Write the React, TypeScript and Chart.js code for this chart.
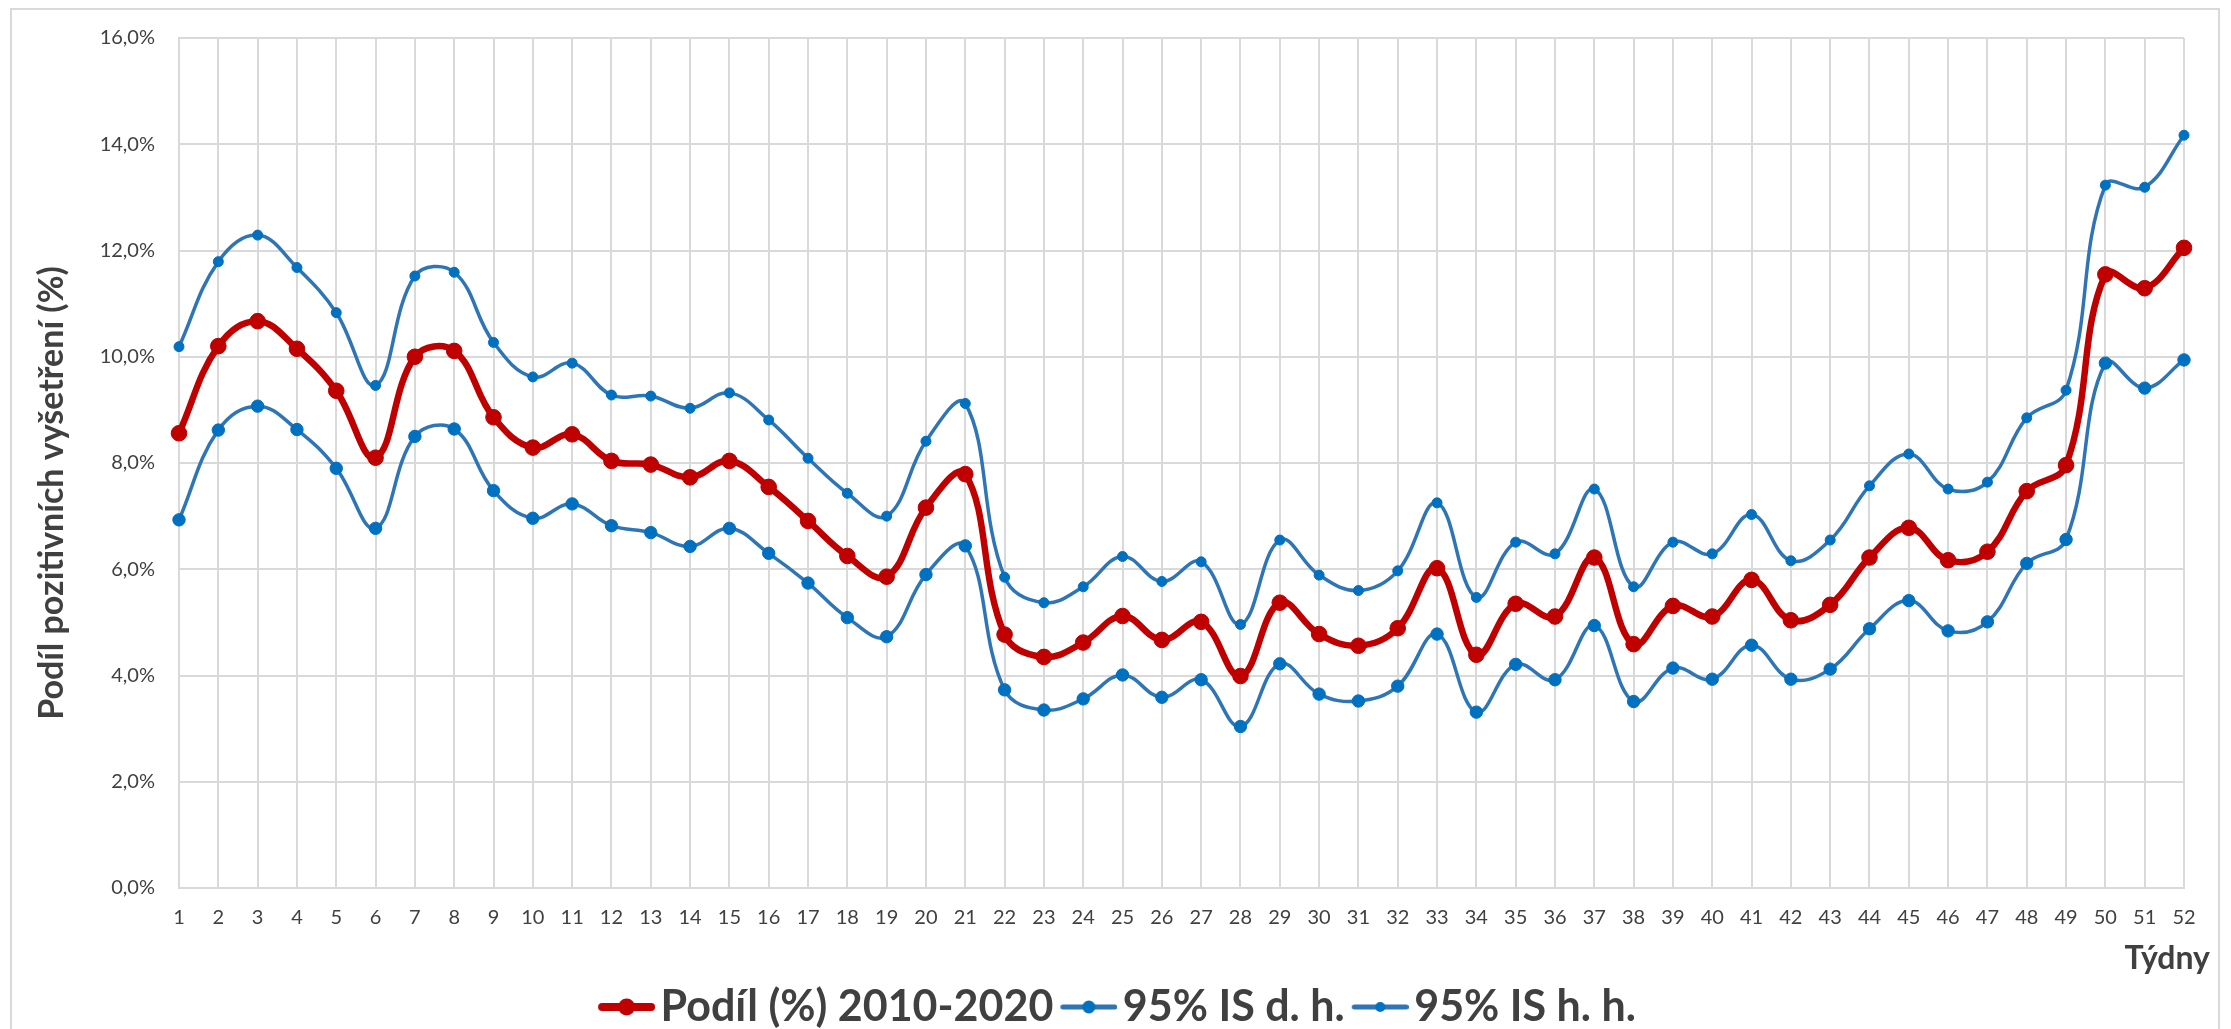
import React, { useEffect, useRef } from "react";
import { Chart, registerables } from "chart.js";

Chart.register(...registerables);

const weeks = ["1","2","3","4","5","6","7","8","9","10","11","12","13","14","15","16","17","18","19","20","21","22","23","24","25","26","27","28","29","30","31","32","33","34","35","36","37","38","39","40","41","42","43","44","45","46","47","48","49","50","51","52"];

const podil = [8.56, 10.20, 10.67, 10.15, 9.36, 8.10, 10.00, 10.11, 8.86, 8.29, 8.54, 8.04, 7.97, 7.73, 8.04, 7.55, 6.91, 6.25, 5.86, 7.16, 7.79, 4.77, 4.35, 4.62, 5.12, 4.67, 5.01, 3.99, 5.37, 4.78, 4.56, 4.89, 6.02, 4.39, 5.35, 5.11, 6.22, 4.59, 5.31, 5.11, 5.80, 5.04, 5.33, 6.22, 6.78, 6.17, 6.33, 7.47, 7.96, 11.55, 11.29, 12.05];

const isDolni = [6.93, 8.62, 9.07, 8.63, 7.90, 6.77, 8.50, 8.64, 7.48, 6.96, 7.23, 6.82, 6.69, 6.43, 6.77, 6.30, 5.74, 5.09, 4.73, 5.90, 6.44, 3.73, 3.35, 3.56, 4.01, 3.59, 3.92, 3.04, 4.22, 3.65, 3.52, 3.80, 4.78, 3.31, 4.21, 3.92, 4.94, 3.51, 4.14, 3.93, 4.57, 3.93, 4.12, 4.88, 5.41, 4.84, 5.01, 6.11, 6.56, 9.88, 9.41, 9.94];

const isHorni = [10.19, 11.79, 12.29, 11.68, 10.83, 9.46, 11.52, 11.59, 10.27, 9.62, 9.88, 9.28, 9.26, 9.03, 9.32, 8.81, 8.09, 7.43, 7.00, 8.41, 9.12, 5.85, 5.37, 5.67, 6.24, 5.77, 6.14, 4.96, 6.55, 5.89, 5.60, 5.97, 7.25, 5.47, 6.51, 6.29, 7.51, 5.67, 6.51, 6.29, 7.03, 6.16, 6.55, 7.57, 8.17, 7.51, 7.64, 8.85, 9.37, 13.23, 13.19, 14.17];

const seriesLabels = ["Podíl (%) 2010-2020", "95% IS d. h.", "95% IS h. h."];
const yTitle = "Podíl pozitivních vyšetření (%)";
const xTitle = "Týdny";

const FONT = "Lato, 'Open Sans', sans-serif";
const TEXT = "#404040";
const GRID = "#d9d9d9";
const RED = "#C00000";
const BLUE_LINE = "#2E75B6";
const BLUE_DOT = "#0070C0";

function legendIcon(lineColor: string, lineW: number, dotColor: string, r: number) {
  const c = document.createElement("canvas");
  c.width = 73;
  c.height = 24;
  const g = c.getContext("2d")!;
  g.strokeStyle = lineColor;
  g.lineWidth = lineW;
  g.lineCap = "round";
  g.beginPath();
  g.moveTo(16 + lineW / 2, 12);
  g.lineTo(73 - lineW / 2, 12);
  g.stroke();
  g.fillStyle = dotColor;
  g.beginPath();
  g.arc(44.5, 12, r, 0, Math.PI * 2);
  g.fill();
  return c;
}

const decor = {
  id: "decor",
  beforeDraw(chart: any) {
    const ctx = chart.ctx;
    ctx.save();
    ctx.fillStyle = "#ffffff";
    ctx.fillRect(0, 0, chart.width, chart.height);
    ctx.strokeStyle = GRID;
    ctx.lineWidth = 2;
    ctx.strokeRect(11, 9, 2208, 1100);
    ctx.restore();
  },
  afterDraw(chart: any) {
    const ctx = chart.ctx;
    ctx.save();
    ctx.fillStyle = TEXT;
    ctx.font = `bold 34px ${FONT}`;
    ctx.translate(52, 493);
    ctx.rotate(-Math.PI / 2);
    ctx.textAlign = "center";
    ctx.textBaseline = "middle";
    ctx.fillText(yTitle, 0, 0);
    ctx.restore();
    ctx.save();
    ctx.fillStyle = TEXT;
    ctx.font = `bold 32px ${FONT}`;
    ctx.textAlign = "right";
    ctx.textBaseline = "alphabetic";
    ctx.fillText(xTitle, 2210, 969);
    ctx.restore();
  },
};

export default function App() {
  const ref = useRef<HTMLCanvasElement | null>(null);

  useEffect(() => {
    if (!ref.current) return;
    const icons = [
      legendIcon(RED, 8, RED, 8.5),
      legendIcon(BLUE_LINE, 5, BLUE_DOT, 6.5),
      legendIcon(BLUE_LINE, 5, BLUE_DOT, 5),
    ];
    const common = {
      tension: 0.4,
      clip: false as any,
      borderJoinStyle: "round" as const,
      borderCapStyle: "round" as const,
      pointBorderWidth: 1,
    };
    const chart = new Chart(ref.current, {
      type: "line",
      data: {
        labels: weeks,
        datasets: [
          {
            ...common,
            label: seriesLabels[0],
            data: podil,
            borderColor: RED,
            backgroundColor: RED,
            borderWidth: 6.5,
            pointRadius: 7.8,
            pointBackgroundColor: RED,
            pointBorderColor: RED,
          },
          {
            ...common,
            label: seriesLabels[1],
            data: isDolni,
            borderColor: BLUE_LINE,
            backgroundColor: BLUE_DOT,
            borderWidth: 3.5,
            pointRadius: 6.2,
            pointBackgroundColor: BLUE_DOT,
            pointBorderColor: BLUE_DOT,
          },
          {
            ...common,
            label: seriesLabels[2],
            data: isHorni,
            borderColor: BLUE_LINE,
            backgroundColor: BLUE_DOT,
            borderWidth: 3.5,
            pointRadius: 5,
            pointBackgroundColor: BLUE_DOT,
            pointBorderColor: BLUE_DOT,
          },
        ],
      },
      options: {
        animation: false,
        responsive: false,
        maintainAspectRatio: false,
        layout: { padding: { left: 50, right: 47, top: 38, bottom: -9.5 } },
        scales: {
          x: {
            type: "category",
            offset: false,
            grid: { color: GRID, lineWidth: 2, drawTicks: false },
            border: { color: GRID, width: 2 },
            ticks: {
              color: TEXT,
              font: { family: FONT, size: 20 },
              padding: 18,
              maxRotation: 0,
              autoSkip: false,
            },
            afterFit: (s: any) => {
              s.height = 90.5;
            },
          },
          y: {
            min: 0,
            max: 16,
            grid: { color: GRID, lineWidth: 2, drawTicks: false },
            border: { color: GRID, width: 2 },
            ticks: {
              stepSize: 2,
              color: TEXT,
              font: { family: FONT, size: 20 },
              padding: 24,
              callback: (v: any) => Number(v).toFixed(1).replace(".", ",") + "%",
            },
            afterFit: (s: any) => {
              s.width = 129;
            },
          },
        },
        plugins: {
          title: { display: false },
          tooltip: { enabled: false },
          legend: {
            position: "bottom",
            labels: {
              usePointStyle: true,
              pointStyleWidth: 41,
              padding: 7,
              color: TEXT,
              font: { family: FONT, size: 43, weight: "bold" },
              generateLabels: (ch: any) =>
                ch.data.datasets.map((ds: any, i: number) => ({
                  text: ds.label,
                  pointStyle: icons[i],
                  fillStyle: ds.borderColor,
                  strokeStyle: ds.borderColor,
                  lineWidth: 0,
                  hidden: false,
                  datasetIndex: i,
                  fontColor: TEXT,
                })),
            },
          },
        },
      } as any,
      plugins: [decor],
    });
    return () => chart.destroy();
  }, []);

  return (
    <div style={{ position: "absolute", left: 0, top: 0, width: 2231, height: 1029, overflow: "hidden" }}>
      <canvas ref={ref} width={2231} height={1029} style={{ width: 2231, height: 1029, display: "block" }} />
    </div>
  );
}
